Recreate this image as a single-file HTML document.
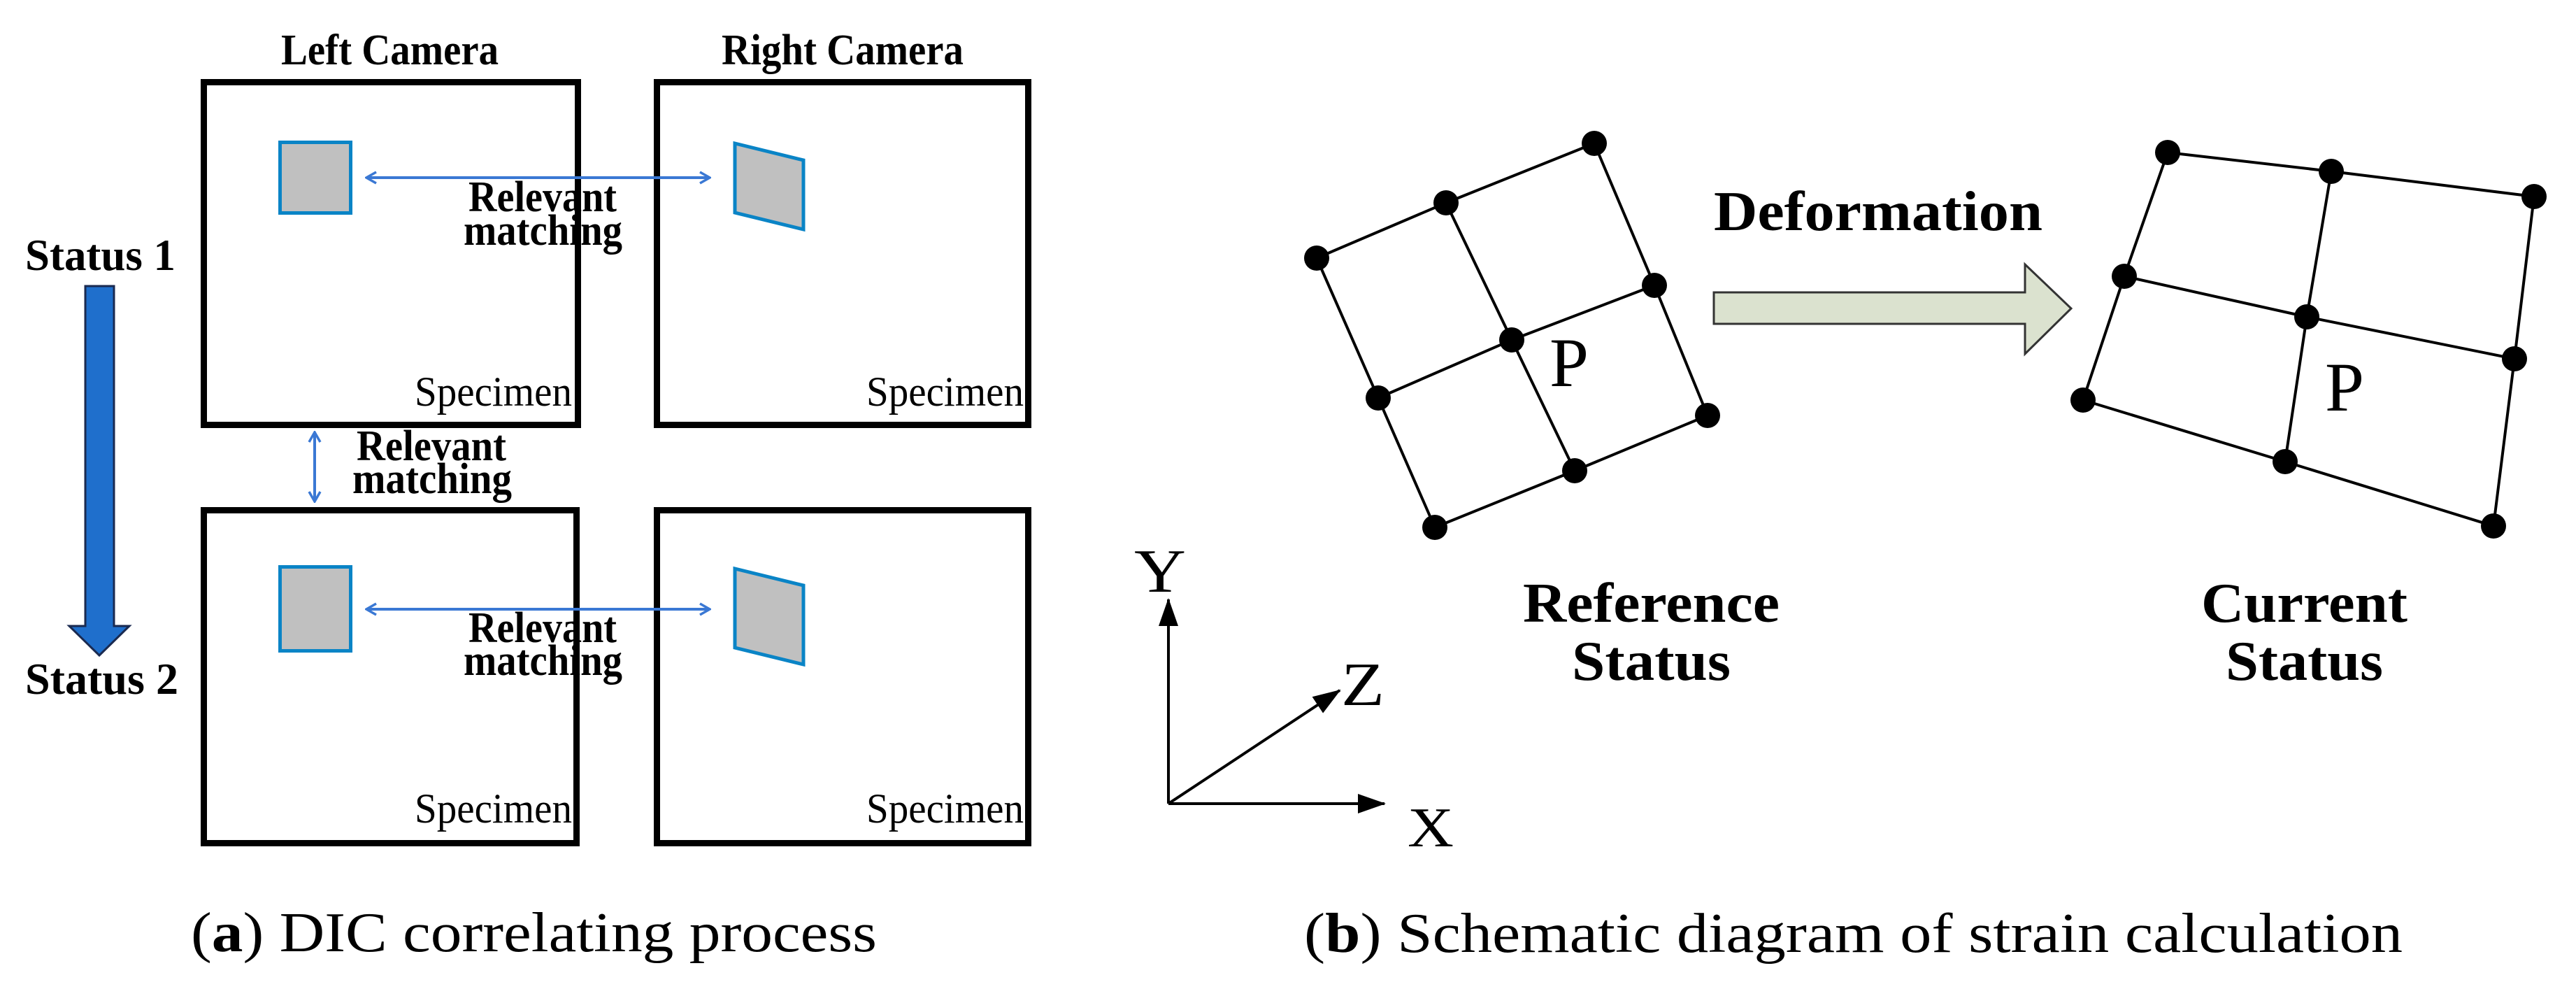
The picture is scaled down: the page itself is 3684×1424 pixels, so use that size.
<!DOCTYPE html>
<html><head><meta charset="utf-8"><style>
html,body{margin:0;padding:0;background:#fff;}
svg{display:block;}
text{font-family:"Liberation Serif",serif;fill:#000;}
.b{font-weight:bold;}
</style></head><body>
<svg width="3684" height="1424" viewBox="0 0 3684 1424" xmlns="http://www.w3.org/2000/svg">
<defs>
<marker id="oa" viewBox="0 0 20 20" refX="18" refY="10" markerWidth="20" markerHeight="20" markerUnits="userSpaceOnUse" orient="auto-start-reverse">
<path d="M4,2 L18,10 L4,18" fill="none" stroke="#3a78d4" stroke-width="3.5"/>
</marker>
<marker id="ka" viewBox="0 0 40 40" refX="38" refY="20" markerWidth="40" markerHeight="40" markerUnits="userSpaceOnUse" orient="auto">
<path d="M0,6 L40,20 L0,34 Z" fill="#000"/>
</marker>
</defs>

<text class="b" x="402" y="92" font-size="62" textLength="311" lengthAdjust="spacingAndGlyphs">Left Camera</text>
<text class="b" x="1032" y="92" font-size="62" textLength="346" lengthAdjust="spacingAndGlyphs">Right Camera</text>

<g fill="none" stroke="#000" stroke-width="9">
<rect x="291.5" y="117.5" width="535" height="490"/>
<rect x="939.5" y="117.5" width="531" height="490"/>
<rect x="291.5" y="729.5" width="533" height="476"/>
<rect x="939.5" y="729.5" width="531" height="476"/>
</g>

<g fill="#c0c0c0" stroke="#0a84c6" stroke-width="5">
<rect x="400.5" y="203.5" width="101" height="101"/>
<polygon points="1051,205 1149,229 1149,328 1051,304"/>
<rect x="400.5" y="810.5" width="101" height="120"/>
<polygon points="1051,813 1149,837 1149,950 1051,926"/>
</g>

<g stroke="#3a78d4" stroke-width="4" fill="none">
<line x1="524" y1="254" x2="1015" y2="254" marker-start="url(#oa)" marker-end="url(#oa)"/>
<line x1="524" y1="871" x2="1015" y2="871" marker-start="url(#oa)" marker-end="url(#oa)"/>
<line x1="450" y1="618" x2="450" y2="717" marker-start="url(#oa)" marker-end="url(#oa)"/>
</g>

<text class="b" x="670" y="302" font-size="62" textLength="212" lengthAdjust="spacingAndGlyphs">Relevant</text>
<text class="b" x="663" y="350" font-size="62" textLength="227" lengthAdjust="spacingAndGlyphs">matching</text>
<text class="b" x="510" y="658" font-size="62" textLength="214" lengthAdjust="spacingAndGlyphs">Relevant</text>
<text class="b" x="504" y="705" font-size="62" textLength="228" lengthAdjust="spacingAndGlyphs">matching</text>
<text class="b" x="670" y="918" font-size="62" textLength="212" lengthAdjust="spacingAndGlyphs">Relevant</text>
<text class="b" x="663" y="965" font-size="62" textLength="227" lengthAdjust="spacingAndGlyphs">matching</text>

<text x="593" y="580" font-size="60" textLength="225" lengthAdjust="spacingAndGlyphs">Specimen</text>
<text x="1239" y="580" font-size="60" textLength="225" lengthAdjust="spacingAndGlyphs">Specimen</text>
<text x="593" y="1176" font-size="60" textLength="225" lengthAdjust="spacingAndGlyphs">Specimen</text>
<text x="1239" y="1176" font-size="60" textLength="225" lengthAdjust="spacingAndGlyphs">Specimen</text>

<text class="b" x="36" y="386" font-size="64" textLength="215" lengthAdjust="spacingAndGlyphs">Status 1</text>
<text class="b" x="36" y="992" font-size="64" textLength="219" lengthAdjust="spacingAndGlyphs">Status 2</text>
<polygon points="122,409 163,409 163,895 185,895 142,937 99,895 122,895" fill="#1f6fcc" stroke="#1a2a50" stroke-width="3"/>

<text x="273" y="1360" font-size="80" textLength="981" lengthAdjust="spacingAndGlyphs">(<tspan font-weight="bold">a</tspan>) DIC correlating process</text>

<g stroke="#000" stroke-width="4" fill="none">
<polyline points="1883,369 2068,290 2280,205"/>
<polyline points="1971,569 2162,486 2366,408"/>
<polyline points="2052,754 2252,673 2442,594"/>
<polyline points="1883,369 1971,569 2052,754"/>
<polyline points="2068,290 2162,486 2252,673"/>
<polyline points="2280,205 2366,408 2442,594"/>
<polyline points="3100,218 3334,245 3624,281"/>
<polyline points="3038,395 3299,453 3596,513"/>
<polyline points="2979,572 3268,660 3566,752"/>
<polyline points="3100,218 3038,395 2979,572"/>
<polyline points="3334,245 3299,453 3268,660"/>
<polyline points="3624,281 3596,513 3566,752"/>
</g>
<g fill="#000">
<circle cx="1883" cy="369" r="18"/><circle cx="2068" cy="290" r="18"/><circle cx="2280" cy="205" r="18"/>
<circle cx="1971" cy="569" r="18"/><circle cx="2162" cy="486" r="18"/><circle cx="2366" cy="408" r="18"/>
<circle cx="2052" cy="754" r="18"/><circle cx="2252" cy="673" r="18"/><circle cx="2442" cy="594" r="18"/>
<circle cx="3100" cy="218" r="18"/><circle cx="3334" cy="245" r="18"/><circle cx="3624" cy="281" r="18"/>
<circle cx="3038" cy="395" r="18"/><circle cx="3299" cy="453" r="18"/><circle cx="3596" cy="513" r="18"/>
<circle cx="2979" cy="572" r="18"/><circle cx="3268" cy="660" r="18"/><circle cx="3566" cy="752" r="18"/>
</g>
<text x="2216" y="552" font-size="100" textLength="56" lengthAdjust="spacingAndGlyphs">P</text>
<text x="3325" y="587" font-size="100" textLength="56" lengthAdjust="spacingAndGlyphs">P</text>

<polygon points="2451,418 2896,418 2896,378 2962,441 2896,506 2896,463 2451,463" fill="#dbe2cf" stroke="#333" stroke-width="3"/>
<text class="b" x="2451" y="329" font-size="80" textLength="470" lengthAdjust="spacingAndGlyphs">Deformation</text>

<text class="b" x="2178" y="889" font-size="80" textLength="367" lengthAdjust="spacingAndGlyphs">Reference</text>
<text class="b" x="2248" y="972" font-size="80" textLength="227" lengthAdjust="spacingAndGlyphs">Status</text>
<text class="b" x="3148" y="889" font-size="80" textLength="295" lengthAdjust="spacingAndGlyphs">Current</text>
<text class="b" x="3183" y="972" font-size="80" textLength="225" lengthAdjust="spacingAndGlyphs">Status</text>

<g stroke="#000" stroke-width="4" fill="none">
<line x1="1671" y1="1149" x2="1671" y2="857" marker-end="url(#ka)"/>
<line x1="1671" y1="1149" x2="1980" y2="1149" marker-end="url(#ka)"/>
<line x1="1671" y1="1149" x2="1916" y2="987" marker-end="url(#ka)"/>
</g>
<text x="1622" y="846" font-size="88" textLength="74" lengthAdjust="spacingAndGlyphs">Y</text>
<text x="2013" y="1210" font-size="80" textLength="66" lengthAdjust="spacingAndGlyphs">X</text>
<text x="1918" y="1008" font-size="88" textLength="62" lengthAdjust="spacingAndGlyphs">Z</text>

<text x="1865" y="1361" font-size="80" textLength="1571" lengthAdjust="spacingAndGlyphs">(<tspan font-weight="bold">b</tspan>) Schematic diagram of strain calculation</text>
</svg>
</body></html>
